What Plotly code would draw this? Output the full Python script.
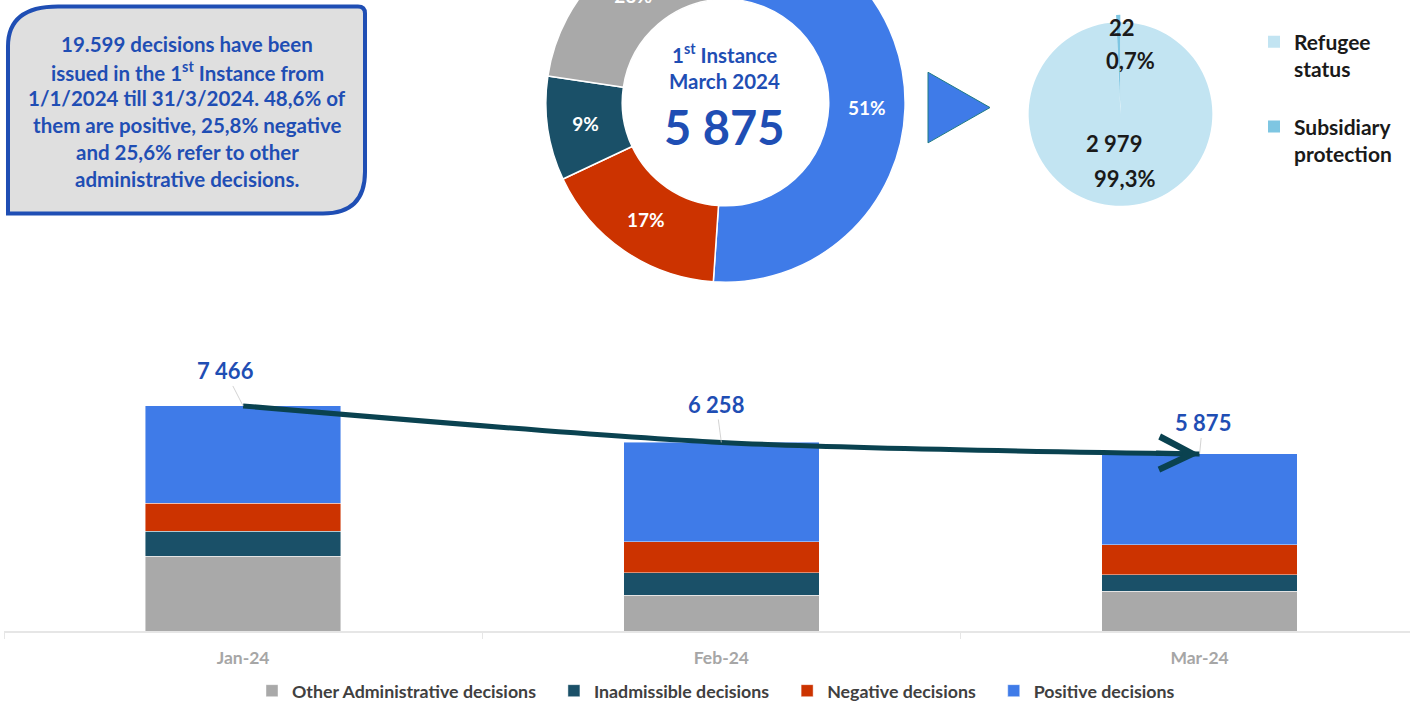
import plotly.graph_objects as go

# ---------------- data ----------------
months = ["Jan-24", "Feb-24", "Mar-24"]
other_admin = [2496, 1191, 1330]
inadmissible = [820, 755, 550]
negative = [920, 1018, 994]
positive = [3230, 3294, 3001]
series_names = ["Other Administrative decisions", "Inadmissible decisions",
                "Negative decisions", "Positive decisions"]
totals = [a + b + c + d for a, b, c, d in zip(other_admin, inadmissible, negative, positive)]

donut_labels = ["Positive decisions", "Negative decisions",
                "Inadmissible decisions", "Other Administrative decisions"]
donut_values = [positive[2], negative[2], inadmissible[2], other_admin[2]]

protection_labels = ["Refugee status", "Subsidiary protection"]
protection_values = [2979, 22]

summary_lines = ["19.599 decisions have been",
                 "issued in the 1<sup>st</sup> Instance from",
                 "1/1/2024 till 31/3/2024. 48,6% of",
                 "them are positive, 25,8% negative",
                 "and 25,6% refer to other",
                 "administrative decisions."]

# ---------------- styling ----------------
C_GRAY, C_TEAL, C_RED, C_BLUE = "#A9A9A9", "#1A5068", "#CC3300", "#3F7BE8"
C_LINE = "#0A4250"
C_TXT = "#1F4EB4"
FONT = "Lato"
W, H, OFF = 1410, 790, 80


def px(x):
    return x / W


def py(y):
    return 1 - (y + OFF) / H


def fmt(v):
    return f"{v:,}".replace(",", " ")


fig = go.Figure()

bar_colors = [C_GRAY, C_TEAL, C_RED, C_BLUE]
pad = "\u00a0" * 3
for i, (name, vals, col) in enumerate(zip(series_names,
                                          [other_admin, inadmissible, negative, positive],
                                          bar_colors)):
    fig.add_trace(go.Bar(
        x=months, y=vals, name=name + (pad if i < 3 else ""), width=0.409,
        marker=dict(color=col, line=dict(color="rgba(255,255,255,0.55)", width=0.8)),
        legend="legend", hovertemplate=name + ": %{y}<extra></extra>"))

fig.add_trace(go.Scatter(
    x=months, y=totals, mode="lines", showlegend=False,
    line=dict(color=C_LINE, width=5, shape="spline", smoothing=0.8),
    hoverinfo="skip"))

# donut
fig.add_trace(go.Pie(
    labels=donut_labels, values=donut_values, hole=0.575, sort=False,
    direction="clockwise", rotation=0,
    marker=dict(colors=[C_BLUE, C_RED, C_TEAL, C_GRAY], line=dict(color="white", width=1.5)),
    texttemplate="%{percent:.0%}", textposition="inside", insidetextorientation="horizontal",
    textfont=dict(family=FONT, size=19, color="white", weight=700),
    showlegend=False,
    domain=dict(x=[px(545), px(906)], y=[py(284), py(-77)])))

# small pie
fig.add_trace(go.Pie(
    labels=[l.replace(" ", "<br>") + "<br>\u00a0" for l in protection_labels],
    values=protection_values,
    sort=False, direction="clockwise", rotation=0, pull=[0, 0.08],
    marker=dict(colors=["#C2E4F2", "#7EC6E2"], line=dict(width=0)),
    textinfo="none", legend="legend2",
    domain=dict(x=[px(1020.8), px(1220.2)], y=[py(214.7), py(15.3)])))

annotations = []
# summary text
for i, line in enumerate(summary_lines):
    annotations.append(dict(xref="paper", yref="paper", x=px(187), y=py(45 + 27 * i),
                            text=line, showarrow=False, xanchor="center", yanchor="middle",
                            font=dict(family=FONT, size=20.5, color=C_TXT, weight=700)))
# donut centre
for txt, y, size in [("1<sup>st</sup> Instance", 54, 20.5), ("March 2024", 82, 20.5),
                     (fmt(sum(donut_values)), 128, 47)]:
    annotations.append(dict(xref="paper", yref="paper", x=px(724), y=py(y), text=txt,
                            showarrow=False, xanchor="center", yanchor="middle",
                            font=dict(family=FONT, size=size, color=C_TXT, weight=700)))
# small pie labels
tot_p = sum(protection_values)
pct = [f"{v / tot_p * 100:.1f}%".replace(".", ",") for v in protection_values]
for txt, (x, y) in [(fmt(protection_values[1]), (1122, 28)), (pct[1], (1130, 61)),
                    (fmt(protection_values[0]), (1114, 145)), (pct[0], (1124, 180))]:
    annotations.append(dict(xref="paper", yref="paper", x=px(x), y=py(y), text=txt,
                            showarrow=False, xanchor="center", yanchor="middle",
                            font=dict(family=FONT, size=22, color="#1A1A1A", weight=700)))
# totals labels
for m, t, (ax, ay) in zip(months, totals, [(-18, -35), (-5, -38), (3, -31)]):
    annotations.append(dict(x=m, y=t, xref="x", yref="y", text=fmt(t), ax=ax, ay=ay,
                            showarrow=True, arrowhead=0, arrowwidth=0.8, arrowcolor="#C8C8C8",
                            font=dict(family=FONT, size=22, color=C_TXT, weight=700)))
# arrow head at end of trend line
annotations.append(dict(x=months[-1], y=totals[-1], xref="x", yref="y", text="", ax=-45, ay=-1,
                        showarrow=True, arrowhead=5, arrowwidth=5, arrowsize=1.3,
                        arrowcolor=C_LINE))

# shapes: rounded text box and triangle
L, T, R, B = 8, 7, 365, 215
tlx, tly, tr, br = 50, 40, 7, 42


def P(x, y):
    return f"{px(x):.5f},{py(y):.5f}"


box_path = (f"M{P(L, B)} L{P(L, T + tly)} Q{P(L, T)} {P(L + tlx, T)} "
            f"L{P(R - tr, T)} Q{P(R, T)} {P(R, T + tr)} L{P(R, B - br)} "
            f"Q{P(R, B)} {P(R - br, B)} Z")
tri_path = f"M{P(928, 73)} L{P(928, 144)} L{P(990, 108.5)} Z"
shapes = [
    dict(type="path", xref="paper", yref="paper", path=box_path,
         fillcolor="#DFDFDF", line=dict(color="#1F4EB4", width=4), layer="below"),
    dict(type="path", xref="paper", yref="paper", path=tri_path,
         fillcolor=C_BLUE, line=dict(color="#1E7B83", width=1)),
]

fig.update_layout(
    width=W, height=H, autosize=False,
    margin=dict(l=0, r=0, t=0, b=0),
    paper_bgcolor="white", plot_bgcolor="white",
    barmode="stack",
    font=dict(family=FONT),
    xaxis=dict(domain=[px(4), 1], type="category", range=[-0.5, 2.44],
               showline=True, linecolor="#E6E6E6", linewidth=1.5,
               ticks="outside", tickson="boundaries", ticklen=6, tickcolor="#E6E6E6",
               ticklabelstandoff=10,
               tickfont=dict(family=FONT, size=17.5, color="#A6A6A6", weight=700),
               showgrid=False, zeroline=False, fixedrange=True),
    yaxis=dict(domain=[py(635), py(335)], range=[0, 300 * 32.95], visible=False,
               showgrid=False, zeroline=False, fixedrange=True),
    legend=dict(orientation="h", x=px(716), xanchor="center", y=py(695), yanchor="middle",
                traceorder="normal", itemwidth=30,
                font=dict(family=FONT, size=17.8, color="#404040", weight=700)),
    legend2=dict(orientation="v", x=px(1254), xanchor="left", y=py(22), yanchor="top",
                 valign="top", itemwidth=30,
                 font=dict(family=FONT, size=21, color="#1A1A1A", weight=700)),
    annotations=annotations,
    shapes=shapes,
)

post = ("document.body.style.margin='0';document.body.style.overflow='hidden';"
        f"document.getElementById('{{plot_id}}').style.marginTop='-{OFF}px';")
fig.write_html("out.html", config={"displayModeBar": False}, post_script=post)
